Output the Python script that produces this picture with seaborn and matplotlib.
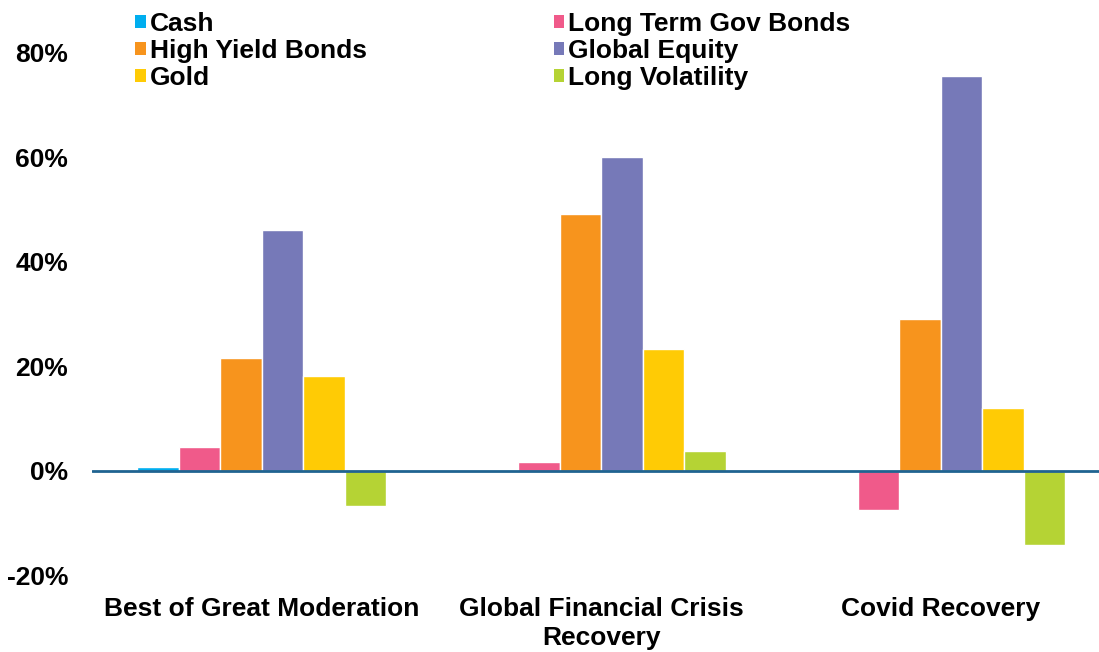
import matplotlib
matplotlib.use("Agg")
import matplotlib.pyplot as plt
import seaborn as sns
import pandas as pd
from matplotlib.patches import Patch

categories = ["Best of Great Moderation", "Global Financial Crisis\nRecovery", "Covid Recovery"]
series = ["Cash", "Long Term Gov Bonds", "High Yield Bonds", "Global Equity", "Gold", "Long Volatility"]
cash = [0.8, 0.0, 0.1]
long_term_gov_bonds = [4.6, 1.7, -7.5]
high_yield_bonds = [21.7, 49.2, 29.0]
global_equity = [46.2, 60.0, 75.6]
gold = [18.1, 23.3, 12.1]
long_volatility = [-6.7, 3.8, -14.2]
yticks = [-20, 0, 20, 40, 60, 80]
colors = ["#00AEEF", "#F05A8A", "#F7941D", "#7679B8", "#FFCB05", "#B5D334"]

values = [cash, long_term_gov_bonds, high_yield_bonds, global_equity, gold, long_volatility]
rows = []
for s, vals in zip(series, values):
    for c, v in zip(categories, vals):
        rows.append({"category": c, "series": s, "value": v})
df = pd.DataFrame(rows)

sns.set_theme(style="white")
plt.rcParams["font.family"] = ["Liberation Sans", "DejaVu Sans"]
plt.rcParams["font.weight"] = "bold"
plt.rcParams["text.color"] = "black"
plt.rcParams["xtick.color"] = "black"
plt.rcParams["ytick.color"] = "black"

FS = 19

fig = plt.figure(figsize=(10.99, 6.52), dpi=100)
ax = fig.add_axes([92 / 1099, 1 - 586 / 652, 1 - 92 / 1099, (586 - 11) / 652])

sns.barplot(data=df, x="category", y="value", hue="series", order=categories,
            hue_order=series, palette=colors, width=0.733, saturation=1,
            ax=ax, legend=False, errorbar=None)

ax.axhline(0, color="#1f6391", lw=2, zorder=5)
ax.set_xlim(-0.5, 2.466)
ax.set_ylim(-22, 88)
ax.set_yticks(yticks)
ax.set_yticklabels([f"{t}%" for t in yticks], fontsize=FS, fontweight="bold", color="black")
ax.set_xticks(range(len(categories)))
ax.set_xticklabels(categories, fontsize=FS, fontweight="bold", linespacing=1.28, color="black")
ax.tick_params(axis="both", length=0)
ax.tick_params(axis="y", pad=24 * 72 / 100)
ax.tick_params(axis="x", pad=8)
ax.set_xlabel("")
ax.set_ylabel("")
for sp in ax.spines.values():
    sp.set_visible(False)
ax.grid(False)

handles = [Patch(facecolor=c, edgecolor="none") for c in colors]
order = [0, 2, 4, 1, 3, 5]
leg = fig.legend([handles[i] for i in order], [series[i] for i in order],
           loc="upper left", bbox_to_anchor=(135 / 1099, 1 - 12 / 652),
           ncol=2, frameon=False, prop={"weight": "bold", "size": FS},
           handlelength=0.4, handleheight=0.4, handletextpad=0.15,
           labelspacing=0.11, columnspacing=7.1, borderpad=0, borderaxespad=0)
for t in leg.get_texts():
    t.set_color("black")

fig.savefig("out.png", dpi=100)
